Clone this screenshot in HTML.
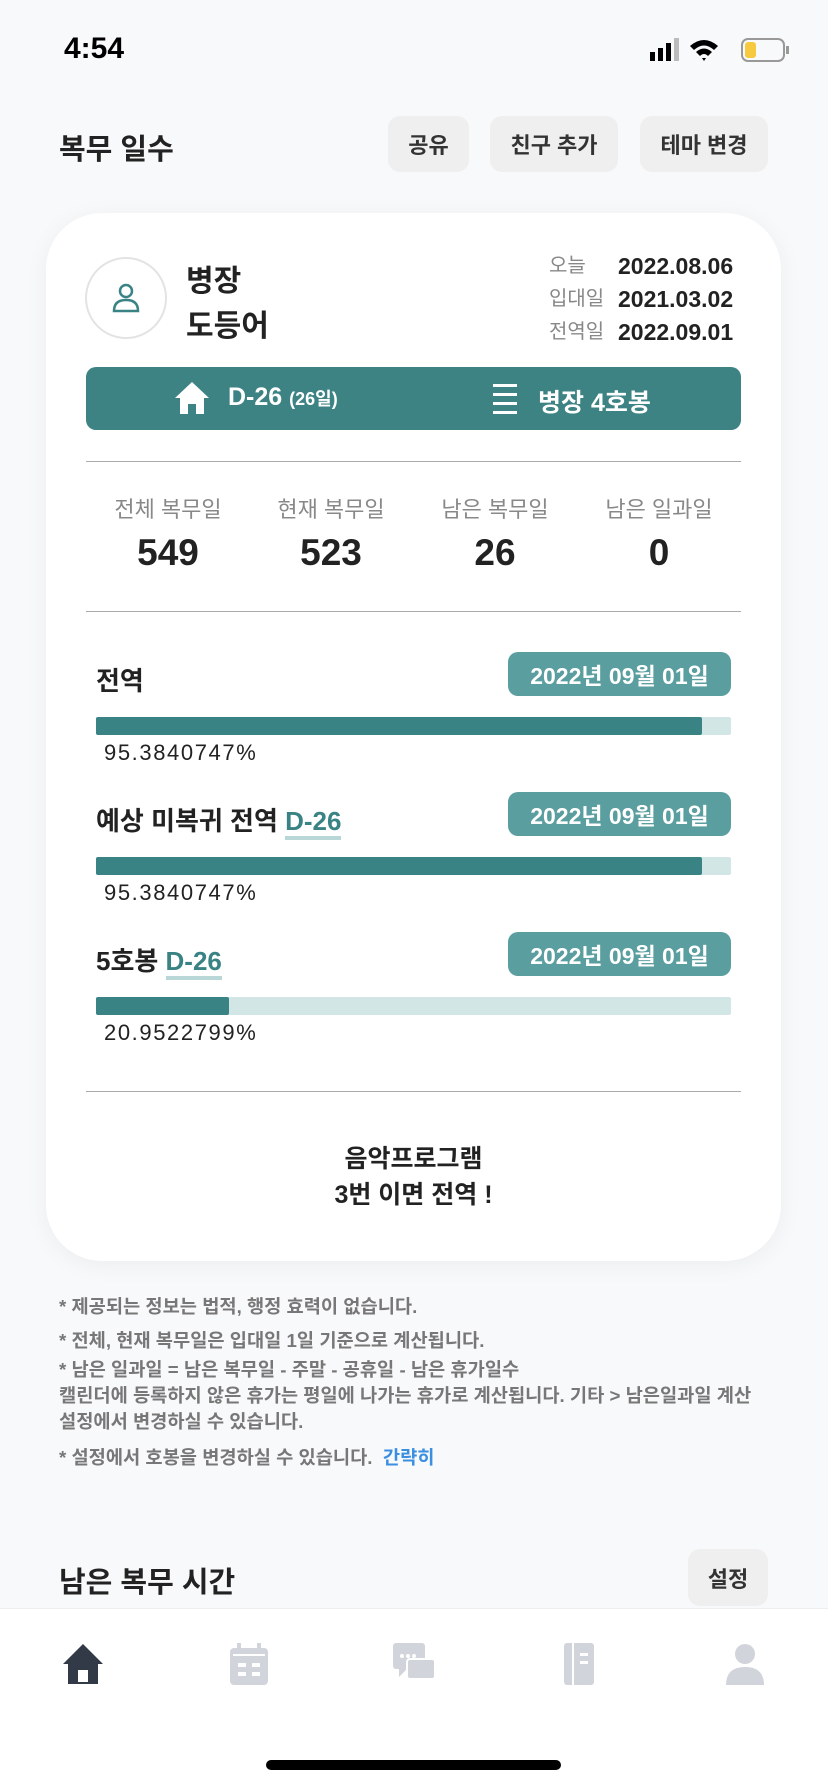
<!DOCTYPE html>
<html><head><meta charset="utf-8">
<style>
*{margin:0;padding:0;box-sizing:border-box}
body{width:828px;height:1792px;background:#f8f9fb;font-family:"Liberation Sans","Noto Sans CJK KR",sans-serif;position:relative;overflow:hidden;color:#222}
.a{position:absolute}
.btn{position:absolute;top:116px;height:56px;background:#efefef;border-radius:12px;font-size:22px;font-weight:bold;color:#333;display:flex;align-items:center;justify-content:center}
.card{left:46px;top:213px;width:735px;height:1048px;background:#fff;border-radius:56px;box-shadow:0 4px 24px rgba(0,0,0,0.05)}
.lbl{font-size:20px;color:#888;line-height:30px}
.val{font-size:23px;font-weight:bold;color:#222;line-height:30px}
.hr{left:86px;width:655px;height:1px;background:#aaa}
.stat{width:160px;text-align:center}
.stat .l{font-size:22px;color:#888}
.stat .n{font-size:37px;font-weight:bold;margin-top:8px}
.rl{font-size:26px;font-weight:bold;color:#222}
.pill{left:508px;width:223px;height:44px;background:#5a9e9f;border-radius:10px;color:#fff;font-size:23px;font-weight:bold;display:flex;align-items:center;justify-content:center}
.pct{left:104px;font-size:22px;color:#222;letter-spacing:1.6px}
.dd{color:#3a8385;border-bottom:4px solid #b9d7d7;line-height:26px}
.fn{left:59px;font-size:18.7px;color:#777;font-weight:bold}
</style></head><body>
<div class="a" style="left:64px;top:32px;font-size:30px;font-weight:bold;color:#000">4:54</div>
<svg class="a" style="left:650px;top:36px" width="140" height="30">
<rect x="0" y="16" width="5" height="9" fill="#000"/><rect x="8" y="12" width="5" height="13" fill="#000"/><rect x="16" y="7" width="5" height="18" fill="#000"/><rect x="24" y="2" width="5" height="23" fill="#bbb"/>
<path d="M40 10 Q54 -2 68 10 L64 14 Q54 5 44 14Z M46 16 Q54 9 62 16 L58 20 Q54 16 50 20Z M52 22 L54 25 L56 22Z" fill="#000"/>
<rect x="92" y="3" width="42" height="22" rx="6" fill="none" stroke="#999" stroke-width="2"/><rect x="95" y="6" width="11" height="16" rx="3" fill="#f7c93f"/><rect x="136" y="10" width="3" height="8" fill="#999"/>
</svg>
<div class="a" style="left:59px;top:126px;font-size:29px;font-weight:bold">복무 일수</div>
<div class="btn" style="left:388px;width:81px">공유</div>
<div class="btn" style="left:490px;width:128px">친구 추가</div>
<div class="btn" style="left:640px;width:128px">테마 변경</div>

<div class="a card"></div>
<div class="a" style="left:85px;top:257px;width:82px;height:82px;border-radius:50%;border:2px solid #e3e3e3;display:flex;align-items:center;justify-content:center">
<svg width="34" height="34" viewBox="0 0 34 34"><circle cx="17" cy="10" r="6" fill="none" stroke="#3a8385" stroke-width="2.5"/><path d="M5 30 Q5 19 17 19 Q29 19 29 30Z" fill="none" stroke="#3a8385" stroke-width="2.5"/></svg></div>
<div class="a" style="left:186px;top:256px;font-size:30px;font-weight:bold">병장</div>
<div class="a" style="left:186px;top:301px;font-size:30px;font-weight:bold">도등어</div>
<div class="a lbl" style="left:549px;top:251px">오늘</div>
<div class="a val" style="left:618px;top:251px">2022.08.06</div>
<div class="a lbl" style="left:549px;top:284px">입대일</div>
<div class="a val" style="left:618px;top:284px">2021.03.02</div>
<div class="a lbl" style="left:549px;top:317px">전역일</div>
<div class="a val" style="left:618px;top:317px">2022.09.01</div>

<div class="a" style="left:86px;top:367px;width:655px;height:63px;background:#3d8384;border-radius:10px;color:#fff;font-weight:bold">
<svg class="a" style="left:88px;top:14px" width="36" height="34" viewBox="0 0 36 34"><path d="M18 1 L35 17 L30 17 L30 33 L22 33 L22 23 L14 23 L14 33 L6 33 L6 17 L1 17Z" fill="#fff"/></svg>
<div class="a" style="left:142px;top:16px;font-size:25px">D-26 <span style="font-size:18px">(26일)</span></div>
<svg class="a" style="left:407px;top:16px" width="24" height="32"><rect x="0" y="1" width="24" height="3" fill="#fff"/><rect x="0" y="10" width="24" height="3" fill="#fff"/><rect x="0" y="19" width="24" height="3" fill="#fff"/><rect x="0" y="28" width="24" height="3" fill="#fff"/></svg>
<div class="a" style="left:452px;top:16px;font-size:25px">병장 4호봉</div>
</div>
<div class="a hr" style="top:461px"></div>
<div class="a stat" style="left:88px;top:492px"><div class="l">전체 복무일</div><div class="n">549</div></div>
<div class="a stat" style="left:251px;top:492px"><div class="l">현재 복무일</div><div class="n">523</div></div>
<div class="a stat" style="left:415px;top:492px"><div class="l">남은 복무일</div><div class="n">26</div></div>
<div class="a stat" style="left:579px;top:492px"><div class="l">남은 일과일</div><div class="n">0</div></div>
<div class="a hr" style="top:611px"></div>

<div id="rows"></div>

<div class="a hr" style="top:1091px"></div>
<div class="a" style="left:46px;width:735px;top:1141px;text-align:center;font-size:25px;font-weight:bold;line-height:36px">음악프로그램<br>3번 이면 전역 !</div>

<div class="a fn" style="top:1292px">* 제공되는 정보는 법적, 행정 효력이 없습니다.</div>
<div class="a fn" style="top:1326px">* 전체, 현재 복무일은 입대일 1일 기준으로 계산됩니다.</div>
<div class="a fn" style="top:1357px;line-height:26px">* 남은 일과일 = 남은 복무일 - 주말 - 공휴일 - 남은 휴가일수<br>캘린더에 등록하지 않은 휴가는 평일에 나가는 휴가로 계산됩니다. 기타 &gt; 남은일과일 계산<br>설정에서 변경하실 수 있습니다.</div>
<div class="a fn" style="top:1443px">* 설정에서 호봉을 변경하실 수 있습니다. &nbsp;<span style="color:#3b8fe0">간략히</span></div>

<div class="a" style="left:59px;top:1559px;font-size:29px;font-weight:bold">남은 복무 시간</div>
<div class="btn" style="left:688px;top:1549px;width:80px;height:57px">설정</div>

<div class="a" style="left:0;top:1608px;width:828px;height:184px;background:#fff;border-top:1px solid #eee"></div>
<svg class="a" style="left:62px;top:1643px" width="42" height="42" viewBox="0 0 42 42"><path d="M21 1 L41 21 L36 21 L36 41 L6 41 L6 21 L1 21Z" fill="#323a48"/><rect x="16" y="27" width="10" height="12" fill="#fff"/></svg>
<svg class="a" style="left:230px;top:1643px" width="38" height="42" viewBox="0 0 38 42"><rect x="0" y="5" width="38" height="37" rx="4" fill="#d1d5db"/><rect x="7" y="0" width="4" height="9" fill="#d1d5db"/><rect x="27" y="0" width="4" height="9" fill="#d1d5db"/><rect x="3" y="11" width="32" height="2" fill="#fff"/><rect x="8" y="20" width="8" height="4" fill="#fff"/><rect x="22" y="20" width="8" height="4" fill="#fff"/><rect x="8" y="29" width="8" height="4" fill="#fff"/><rect x="22" y="29" width="8" height="4" fill="#fff"/></svg>
<svg class="a" style="left:393px;top:1643px" width="42" height="42" viewBox="0 0 42 42"><rect x="0" y="0" width="32" height="26" rx="3" fill="#d1d5db"/><path d="M6 26 L6 34 L14 26Z" fill="#d1d5db"/><rect x="14" y="16" width="28" height="20" rx="3" fill="#d1d5db" stroke="#fff" stroke-width="2"/><circle cx="9" cy="13" r="2" fill="#fff"/><circle cx="15" cy="13" r="2" fill="#fff"/><circle cx="21" cy="13" r="2" fill="#fff"/></svg>
<svg class="a" style="left:564px;top:1643px" width="30" height="42" viewBox="0 0 30 42"><rect x="0" y="0" width="30" height="42" rx="3" fill="#d1d5db"/><rect x="8" y="0" width="2" height="42" fill="#fff"/><rect x="16" y="10" width="8" height="3" fill="#fff"/><rect x="16" y="18" width="8" height="3" fill="#fff"/></svg>
<svg class="a" style="left:726px;top:1643px" width="38" height="42" viewBox="0 0 38 42"><circle cx="19" cy="11" r="10" fill="#d1d5db"/><path d="M0 42 Q0 24 19 24 Q38 24 38 42Z" fill="#d1d5db"/></svg>
<div class="a" style="left:266px;top:1760px;width:295px;height:10px;background:#000;border-radius:5px"></div>

<script>
const rowLabels=["전역","예상 미복귀 전역","5호봉"];
const rowDday=["","D-26","D-26"];
const rowDates=["2022년 09월 01일","2022년 09월 01일","2022년 09월 01일"];
const rowPercents=[95.3840747,95.3840747,20.9522799];
const rowsEl=document.getElementById('rows');
const barX=96, barW=635;
function xScale(p){return barW*p/100;}
rowLabels.forEach((lab,i)=>{
  const top=652+i*140;
  const l=document.createElement('div');
  
  
  l.className='a rl';l.style.left='96px';l.style.top=(top+9)+'px';
  l.innerHTML=lab+(rowDday[i]?' <span class="dd">'+rowDday[i]+'</span>':'');
  rowsEl.appendChild(l);
  const p=document.createElement('div');
  
  
  p.className='a pill';p.style.top=top+'px';p.textContent=rowDates[i];
  rowsEl.appendChild(p);
  const bg=document.createElement('div');
  
  
  bg.className='a';bg.style.cssText='left:'+barX+'px;top:'+(top+65)+'px;width:'+barW+'px;height:18px;background:#d3e6e6;border-radius:2px';
  rowsEl.appendChild(bg);
  const f=document.createElement('div');
  
  
  f.className='a';f.style.cssText='left:'+barX+'px;top:'+(top+65)+'px;width:'+xScale(rowPercents[i])+'px;height:18px;background:#3a8385;border-radius:2px';
  rowsEl.appendChild(f);
  const pc=document.createElement('div');
  
  
  pc.className='a pct';pc.style.top=(top+88)+'px';pc.textContent=rowPercents[i].toFixed(7)+'%';
  rowsEl.appendChild(pc);
});
</script>
</body></html>
